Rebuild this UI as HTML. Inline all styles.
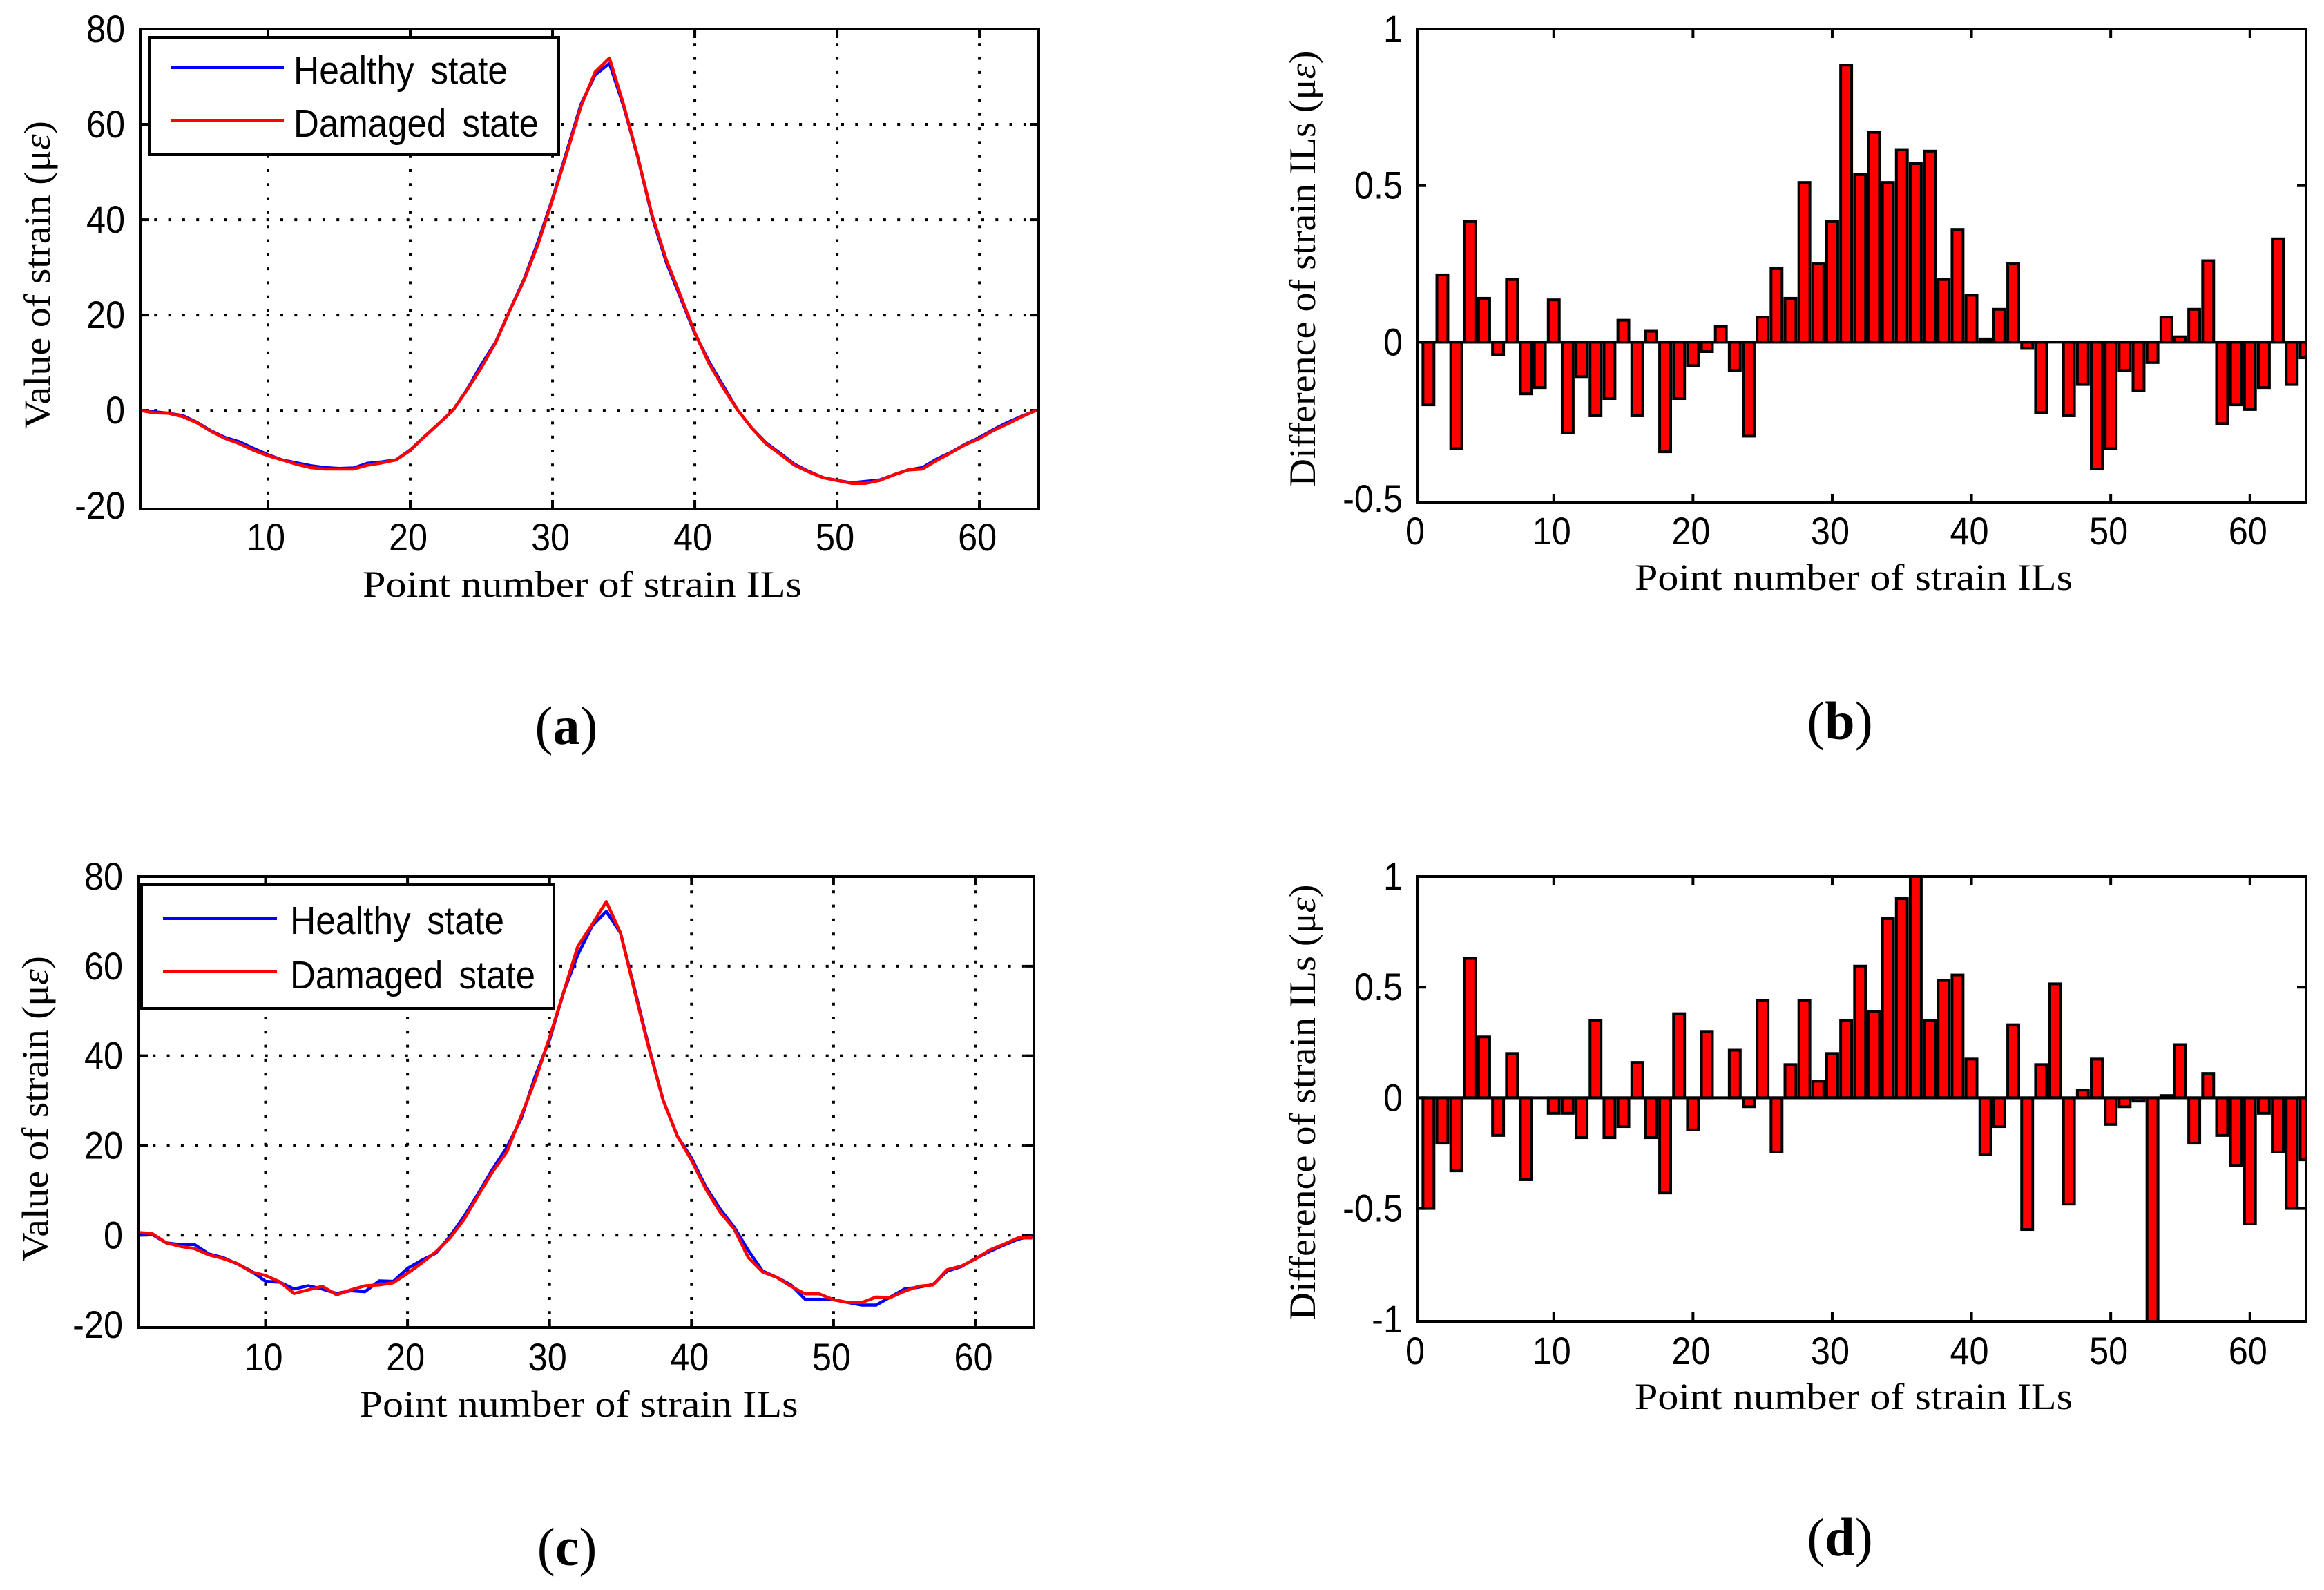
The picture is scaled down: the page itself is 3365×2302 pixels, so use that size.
<!DOCTYPE html>
<html lang="en">
<head>
<meta charset="utf-8">
<title>Strain influence lines: healthy and damaged states</title>
<style>
html,body{margin:0;padding:0;background:#fff;}
svg{display:block;}
text{fill:#000;}
.tick{font-family:"Liberation Sans",sans-serif;font-size:56px;}
.legend{font-family:"Liberation Sans",sans-serif;font-size:57px;word-spacing:10px;}
.axis{font-family:"Liberation Serif",serif;font-size:54px;}
.panel{font-family:"Liberation Serif",serif;font-size:78px;}
.panel tspan{font-weight:bold;}
.eps{font-style:italic;}
</style>
</head>
<body>
<svg id="fig" xmlns="http://www.w3.org/2000/svg" width="3365" height="2302" viewBox="0 0 3365 2302">
<rect x="0" y="0" width="3365" height="2302" fill="#fff"/>
<g id="panel-a"></g>
<g id="panel-b"></g>
<g id="panel-c"></g>
<g id="panel-d"></g>

<text class="axis" x="843" y="864" text-anchor="middle" textLength="636" lengthAdjust="spacingAndGlyphs">Point number of strain ILs</text>
<text class="axis" transform="translate(72 398) rotate(-90)" text-anchor="middle" textLength="446" lengthAdjust="spacingAndGlyphs">Value of strain (μ<tspan class="eps">ε</tspan>)</text>
<text class="panel" x="820" y="1077" text-anchor="middle">(<tspan>a</tspan>)</text>

<text class="axis" x="2684" y="854" text-anchor="middle" textLength="634" lengthAdjust="spacingAndGlyphs">Point number of strain ILs</text>
<text class="axis" transform="translate(1904 389) rotate(-90)" text-anchor="middle" textLength="631" lengthAdjust="spacingAndGlyphs">Difference of strain ILs (μ<tspan class="eps">ε</tspan>)</text>
<text class="panel" x="2664" y="1070" text-anchor="middle">(<tspan>b</tspan>)</text>

<text class="axis" x="838" y="2051" text-anchor="middle" textLength="635" lengthAdjust="spacingAndGlyphs">Point number of strain ILs</text>
<text class="axis" transform="translate(69 1605) rotate(-90)" text-anchor="middle" textLength="442" lengthAdjust="spacingAndGlyphs">Value of strain (μ<tspan class="eps">ε</tspan>)</text>
<text class="panel" x="821" y="2266" text-anchor="middle">(<tspan>c</tspan>)</text>

<text class="axis" x="2684" y="2040" text-anchor="middle" textLength="634" lengthAdjust="spacingAndGlyphs">Point number of strain ILs</text>
<text class="axis" transform="translate(1904 1596) rotate(-90)" text-anchor="middle" textLength="631" lengthAdjust="spacingAndGlyphs">Difference of strain ILs (μ<tspan class="eps">ε</tspan>)</text>
<text class="panel" x="2664" y="2252" text-anchor="middle">(<tspan>d</tspan>)</text>

<g id="legend-a">
<rect x="216" y="54" width="593" height="170" fill="#fff" stroke="#000" stroke-width="4"/>
<line x1="247" y1="98" x2="411" y2="98" stroke="#0000ff" stroke-width="4"/>
<text class="legend" x="425" y="121" textLength="310" lengthAdjust="spacingAndGlyphs">Healthy state</text>
<line x1="247" y1="175" x2="411" y2="175" stroke="#ff0000" stroke-width="4"/>
<text class="legend" x="425" y="198" textLength="355" lengthAdjust="spacingAndGlyphs">Damaged state</text>
</g>
<g id="legend-c">
<rect x="205" y="1281" width="597" height="179" fill="#fff" stroke="#000" stroke-width="4"/>
<line x1="236" y1="1330" x2="401" y2="1330" stroke="#0000ff" stroke-width="4"/>
<text class="legend" x="420" y="1352" textLength="310" lengthAdjust="spacingAndGlyphs">Healthy state</text>
<line x1="236" y1="1407" x2="401" y2="1407" stroke="#ff0000" stroke-width="4"/>
<text class="legend" x="420" y="1431" textLength="355" lengthAdjust="spacingAndGlyphs">Damaged state</text>
</g>
</svg>

<script>
const xTicksLine = [10, 20, 30, 40, 50, 60];
const xTicksBar = [0, 10, 20, 30, 40, 50, 60];
const yTicksLine = [-20, 0, 20, 40, 60, 80];
const yTicksBarB = [-0.5, 0, 0.5, 1];
const yTicksBarD = [-1, -0.5, 0, 0.5, 1];

const healthyA = [0,-0.3,-0.6,-1.1,-2.5,-4.3,-5.7,-6.6,-8,-9.3,-10.4,-11,-11.6,-12,-12.2,-12.1,-11.1,-10.8,-10.4,-8.3,-5.5,-2.8,0,4.4,9.6,14.3,21,27.5,35.5,44.4,54.3,64.2,70.4,72.8,63.8,53,40.6,31,23.6,16.1,10.2,5.1,0.1,-3.7,-6.8,-9,-11.3,-12.8,-14.1,-14.7,-15.2,-14.9,-14.6,-13.5,-12.5,-12,-10.2,-8.8,-7.1,-5.7,-4,-2.5,-1.2,0];
const damagedA = [0,-0.5,-0.6,-1.3,-2.6,-4.4,-5.9,-7,-8.4,-9.5,-10.4,-11.3,-12,-12.3,-12.3,-12.3,-11.5,-11,-10.4,-8.4,-5.5,-2.8,0,4.3,9,14.2,21,27.3,35,44.2,53.9,63.8,71,73.9,64.1,53.1,40.9,31.5,24,16.3,9.8,4.7,0.1,-3.7,-7,-9.2,-11.5,-12.9,-14.1,-14.7,-15.3,-15.3,-14.7,-13.5,-12.5,-12.3,-10.5,-8.9,-7.2,-5.9,-4.2,-2.8,-1.3,0];
const diffB = [-0.2,0.215,-0.34,0.385,0.14,-0.04,0.2,-0.165,-0.145,0.135,-0.29,-0.11,-0.235,-0.18,0.07,-0.235,0.035,-0.35,-0.18,-0.075,-0.03,0.05,-0.09,-0.3,0.08,0.235,0.14,0.51,0.25,0.385,0.885,0.535,0.67,0.51,0.615,0.57,0.61,0.2,0.36,0.15,0.01,0.105,0.25,-0.02,-0.225,0,-0.235,-0.135,-0.405,-0.34,-0.09,-0.155,-0.065,0.08,0.017,0.105,0.26,-0.26,-0.2,-0.215,-0.145,0.33,-0.135,-0.05];
const healthyC = [0.1,0.2,-1.7,-2.1,-2.1,-4.2,-5,-6.4,-8,-10.3,-10.5,-12,-11.3,-12,-13,-12.4,-12.6,-10.2,-10.3,-7.4,-5.6,-4,-0.2,4.3,9.4,14.8,19.6,26,35.5,43.6,54.3,62.6,69,72.2,67.4,54.7,41.9,30.1,22.1,17.2,10.8,5.9,1.8,-3.4,-8,-9.4,-11.1,-14.3,-14.3,-14.4,-15,-15.6,-15.6,-13.8,-12,-11.6,-11,-8,-7,-5.2,-3.6,-2.2,-0.9,-0.2];
const damagedC = [0.6,0.4,-1.7,-2.5,-3,-4.4,-5.2,-6.3,-8.2,-9,-10.4,-13,-12.2,-11.4,-13.3,-12.2,-11.3,-11.1,-10.6,-8.5,-6.2,-3.7,-0.6,3.6,9,14.2,18.6,26.6,34.6,44.1,54.3,64.5,69.3,74.4,67.4,54.3,41.6,30.1,22.1,16.7,10.3,5.2,1.4,-5,-8.2,-9.4,-11.4,-13.1,-13.1,-14.4,-15,-15,-13.8,-13.9,-12.5,-11.4,-11.1,-7.7,-6.9,-5.3,-3.3,-2,-0.6,-0.6];
const diffD = [-0.5,-0.205,-0.33,0.63,0.275,-0.17,0.2,-0.37,0,-0.07,-0.07,-0.18,0.35,-0.18,-0.13,0.16,-0.18,-0.43,0.38,-0.145,0.3,0,0.215,-0.04,0.44,-0.245,0.15,0.44,0.075,0.2,0.35,0.595,0.39,0.81,0.9,1,0.35,0.53,0.555,0.175,-0.255,-0.13,0.33,-0.595,0.15,0.515,-0.48,0.035,0.175,-0.12,-0.04,-0.015,-1.01,0.01,0.24,-0.205,0.11,-0.17,-0.305,-0.57,-0.07,-0.245,-0.5,-0.28];

const NS = 'http://www.w3.org/2000/svg';

function make(tag, attrs, parent) {
  const el = document.createElementNS(NS, tag);
  for (const k in attrs) el.setAttribute(k, attrs[k]);
  parent.appendChild(el);
  return el;
}

function scale(d0, d1, r0, r1) {
  return v => r0 + (v - d0) * (r1 - r0) / (d1 - d0);
}

function drawFrame(g, box, xs, ys, xTicks, yTicks, grid, labelOpts) {
  const tickLen = 13;
  const lowest = yTicks[0];
  const highest = yTicks[yTicks.length - 1];
  if (grid) {
    xTicks.forEach(t => {
      const gl = make('line', {x1: xs(t), x2: xs(t), y1: box.top, y2: box.bottom, stroke: '#000', 'stroke-width': 4, 'stroke-dasharray': '4 16.3'}, g);
      
      
    });
    yTicks.forEach(t => {
      if (t === lowest || t === highest) return;
      const gl = make('line', {x1: box.left, x2: box.right, y1: ys(t), y2: ys(t), stroke: '#000', 'stroke-width': 4, 'stroke-dasharray': '4 16.3'}, g);
      
      
    });
  }
  xTicks.forEach(t => {
    const x = Math.max(xs(t), box.left);
    const m = make('path', {d: `M${x} ${box.bottom}v${-tickLen}M${x} ${box.top}v${tickLen}`, stroke: '#000', 'stroke-width': 4, fill: 'none'}, g);
    
    
    const lb = make('text', {class: 'tick', transform: `translate(${x - 3} ${labelOpts.xBaseline}) scale(0.9 1)`, 'text-anchor': 'middle'}, g);
    
    
    lb.textContent = String(t);
  });
  yTicks.forEach(t => {
    const y = ys(t);
    if (t !== lowest && t !== highest) {
      const m = make('path', {d: `M${box.left} ${y}h${tickLen}M${box.right} ${y}h${-tickLen}`, stroke: '#000', 'stroke-width': 4, fill: 'none'}, g);
      
      
    }
    const lb = make('text', {class: 'tick', transform: `translate(${labelOpts.yRight} ${y + 19}) scale(0.9 1)`, 'text-anchor': 'end'}, g);
    
    
    lb.textContent = String(t);
  });
}

function drawBorder(g, box) {
  const r = make('rect', {x: box.left, y: box.top, width: box.right - box.left, height: box.bottom - box.top, fill: 'none', stroke: '#000', 'stroke-width': 4}, g);
  
  
}

function clipFor(g, id, box) {
  const cp = make('clipPath', {id: id}, g);
  make('rect', {x: box.left, y: box.top, width: box.right - box.left, height: box.bottom - box.top}, cp);
  return `url(#${id})`;
}

function drawLine(g, xs, ys, values, color, clip) {
  const pts = values.map((v, i) => `${xs(i + 1).toFixed(1)},${ys(v).toFixed(1)}`).join(' ');
  return make('polyline', {points: pts, fill: 'none', stroke: color, 'stroke-width': 4.5, 'stroke-linejoin': 'round', 'clip-path': clip}, g);
}

function lineChart(id, box, xs, ys, healthy, damaged, labelOpts) {
  const g = document.getElementById(id);
  drawFrame(g, box, xs, ys, xTicksLine, yTicksLine, true, labelOpts);
  const clip = clipFor(g, id + '-clip', box);
  const h = drawLine(g, xs, ys, healthy, '#0000ff', clip);
  
  
  const d = drawLine(g, xs, ys, damaged, '#ff0000', clip);
  
  
  drawBorder(g, box);
}

function barChart(id, box, xs, ys, values, yTicks, labelOpts) {
  const g = document.getElementById(id);
  drawFrame(g, box, xs, ys, xTicksBar, yTicks, false, labelOpts);
  const clip = clipFor(g, id + '-clip', box);
  const bw = (xs(1) - xs(0)) * 0.79;
  const y0 = ys(0);
  values.forEach((v, i) => {
    if (v === 0) return;
    const cx = xs(i + 1);
    const yv = ys(v);
    const bar = make('rect', {x: cx - bw / 2, y: Math.min(y0, yv), width: bw, height: Math.abs(yv - y0), fill: '#ff0000', stroke: '#000', 'stroke-width': 4, 'clip-path': clip}, g);
    
    
  });
  const base = make('line', {x1: box.left, x2: box.right, y1: y0, y2: y0, stroke: '#000', 'stroke-width': 4}, g);
  
  
  drawBorder(g, box);
}

const boxA = {left: 203, right: 1504, top: 42, bottom: 737};
lineChart('panel-a', boxA,
  scale(1.02, 64.17, boxA.left, boxA.right),
  scale(-20.7, 80, boxA.bottom, boxA.top),
  healthyA, damagedA, {xBaseline: 797, yRight: 181});

const boxB = {left: 2052, right: 3339, top: 42, bottom: 728};
barChart('panel-b', boxB,
  scale(0.19, 64.03, boxB.left, boxB.right),
  scale(-0.513, 1, boxB.bottom, boxB.top),
  diffB, yTicksBarB, {xBaseline: 788, yRight: 2031});

const boxC = {left: 201, right: 1497, top: 1269, bottom: 1922};
lineChart('panel-c', boxC,
  scale(1.075, 64.11, boxC.left, boxC.right),
  scale(-20.6, 80, boxC.bottom, boxC.top),
  healthyC, damagedC, {xBaseline: 1984, yRight: 178});

const boxD = {left: 2052, right: 3339, top: 1269, bottom: 1913};
barChart('panel-d', boxD,
  scale(0.19, 64.03, boxD.left, boxD.right),
  scale(-1.01, 1, boxD.bottom, boxD.top),
  diffD, yTicksBarD, {xBaseline: 1975, yRight: 2031});
</script>
</body>
</html>
